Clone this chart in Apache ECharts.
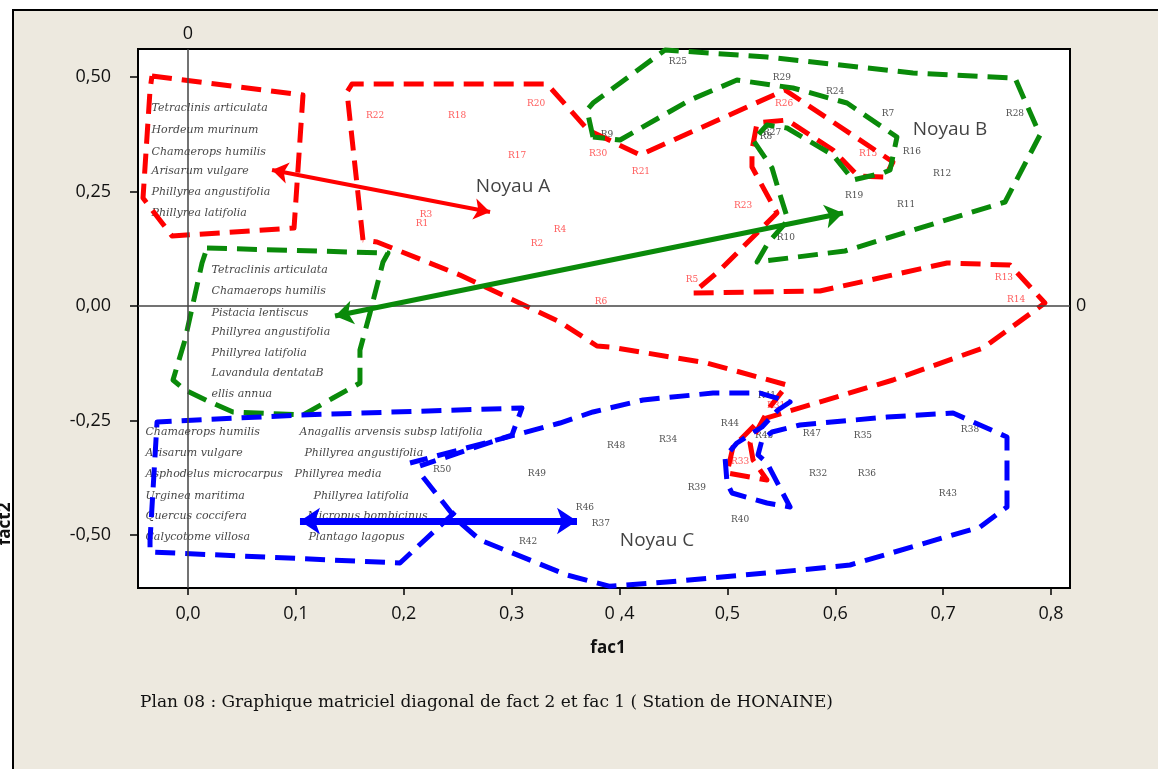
<!DOCTYPE html>
<html>
<head>
<meta charset="utf-8">
<script src="https://cdn.jsdelivr.net/npm/echarts@6/dist/echarts.min.js"></script>
<style>
  html, body { margin: 0; padding: 0; background: #fff; overflow: hidden; }
  #frame { position: absolute; left: 12px; top: 9px; width: 1200px; height: 800px;
           background: #EDE9DF; border-left: 2px solid #000; border-top: 2px solid #000; }
  #chart { position: absolute; left: 0; top: 0; width: 1158px; height: 769px; }
</style>
</head>
<body>
<div id="frame"></div>
<div id="chart"></div>
<script>
// ---- axes ----
const xTickValues = [0, 0.1, 0.2, 0.3, 0.4, 0.5, 0.6, 0.7, 0.8];
const xTickLabels = ['0,0', '0,1', '0,2', '0,3', '0 ,4', '0,5', '0,6', '0,7', '0,8'];
const yTickValues = [-0.5, -0.25, 0, 0.25, 0.5];
const yTickLabels = ['-0,50', '-0,25', '0,00', '0,25', '0,50'];

// ---- relevés (fac1, fact2) ----
const relevesRouges = [
  ['R22', 0.1734, 0.4148], ['R18', 0.2494, 0.4148], ['R20', 0.3226, 0.4410],
  ['R17', 0.3050, 0.3275], ['R30', 0.3801, 0.3319], ['R21', 0.4199, 0.2926],
  ['R3', 0.2206, 0.1987], ['R1', 0.2169, 0.1790], ['R4', 0.3448, 0.1659],
  ['R2', 0.3235, 0.1354], ['R5', 0.4672, 0.0568], ['R6', 0.3828, 0.0087],
  ['R23', 0.5145, 0.2183], ['R26', 0.5525, 0.4410], ['R15', 0.6304, 0.3319],
  ['R13', 0.7564, 0.0611], ['R14', 0.7676, 0.0131], ['R33', 0.5117, -0.3406],
  ['R31', 0.5451, -0.2183]
];
const relevesNoirs = [
  ['R25', 0.4542, 0.5328], ['R29', 0.5506, 0.4978], ['R24', 0.5998, 0.4672],
  ['R7', 0.6489, 0.4192], ['R28', 0.7666, 0.4192], ['R9', 0.3884, 0.3734],
  ['R27', 0.5414, 0.3777], ['R8', 0.5358, 0.3690], ['R16', 0.6711, 0.3362],
  ['R12', 0.6990, 0.2882], ['R19', 0.6174, 0.2402], ['R11', 0.6656, 0.2205],
  ['R10', 0.5543, 0.1485], ['R41', 0.5367, -0.1965], ['R44', 0.5024, -0.2576],
  ['R45', 0.5340, -0.2838], ['R47', 0.5784, -0.2795], ['R35', 0.6257, -0.2838],
  ['R38', 0.7249, -0.2707], ['R48', 0.3968, -0.3057], ['R34', 0.4450, -0.2926],
  ['R50', 0.2355, -0.3581], ['R49', 0.3235, -0.3668], ['R32', 0.5840, -0.3668],
  ['R36', 0.6294, -0.3668], ['R39', 0.4718, -0.3974], ['R43', 0.7045, -0.4105],
  ['R46', 0.3680, -0.4410], ['R37', 0.3828, -0.4760], ['R40', 0.5117, -0.4672],
  ['R42', 0.3152, -0.5153]
];

// ---- espèces caractéristiques de chaque noyau ----
const especesA = [
  ['Tetraclinis articulata', -0.0343, 0.4323], ['Hordeum murinum', -0.0343, 0.3843],
  ['Chamaerops humilis', -0.0343, 0.3362], ['Arisarum vulgare', -0.0343, 0.2948],
  ['Phillyrea angustifolia', -0.0343, 0.2489], ['Phillyrea latifolia', -0.0343, 0.2031]
];
const especesB = [
  ['Tetraclinis articulata', 0.0213, 0.0786], ['Chamaerops humilis', 0.0213, 0.0328],
  ['Pistacia lentiscus', 0.0213, -0.0153], ['Phillyrea angustifolia', 0.0213, -0.0568],
  ['Phillyrea latifolia', 0.0213, -0.1026], ['Lavandula dentataB', 0.0213, -0.1463],
  ['ellis annua', 0.0213, -0.1921]
];
const especesC = [
  ['Chamaerops humilis', -0.0399, -0.2751], ['Arisarum vulgare', -0.0399, -0.3210],
  ['Asphodelus microcarpus', -0.0399, -0.3668], ['Urginea maritima', -0.0399, -0.4148],
  ['Quercus coccifera', -0.0399, -0.4585], ['Calycotome villosa', -0.0399, -0.5044],
  ['Anagallis arvensis subsp latifolia', 0.1029, -0.2751], ['Phillyrea angustifolia', 0.1075, -0.3210],
  ['Phillyrea media', 0.0983, -0.3668], ['Phillyrea latifolia', 0.1159, -0.4148],
  ['Micropus bombicinus', 0.1103, -0.4585], ['Plantago lagopus', 0.1112, -0.5044]
];
const noyaux = [['Noyau A', 0.3013, 0.2598], ['Noyau B', 0.7064, 0.3843], ['Noyau C', 0.4348, -0.5131]];

// ---- contours des groupements ----
const contourRougeEspeces = [[-0.0334,0.5022],[0.1066,0.4607],[0.0983,0.1703],[-0.0148,0.1528],[-0.0417,0.2358],[-0.0352,0.4716],[-0.0334,0.5022]];
const contourRougeA = [[0.1622,0.1441],[0.1474,0.4672],[0.1520,0.4847],[0.3328,0.4847],[0.3708,0.3843],[0.4190,0.3297],[0.5534,0.4716],[0.6535,0.3144],[0.6461,0.2817],[0.6211,0.2838],[0.5979,0.3406],[0.5553,0.4061],[0.5275,0.3996],[0.5228,0.3406],[0.5228,0.3035],[0.5460,0.2031],[0.4932,0.0786],[0.4681,0.0284],[0.5859,0.0328],[0.7036,0.0939],[0.7620,0.0895],[0.7944,0.0066],[0.7370,-0.0917],[0.6535,-0.1616],[0.5516,-0.2336],[0.5302,-0.2489],[0.5052,-0.3079],[0.4997,-0.3646],[0.5367,-0.3799],[0.5238,-0.3362],[0.5210,-0.2991],[0.5395,-0.2205],[0.5553,-0.1725],[0.4811,-0.1245],[0.3912,-0.0895],[0.3791,-0.0873],[0.3448,-0.0349],[0.2521,0.0677],[0.1752,0.1397],[0.1622,0.1441]];
const contourVertB = [[0.3754,0.3690],[0.3699,0.4279],[0.3754,0.4432],[0.4422,0.559],[0.5367,0.5437],[0.6721,0.5087],[0.7666,0.4978],[0.7898,0.3734],[0.7574,0.2271],[0.6090,0.1201],[0.5275,0.0961],[0.5377,0.1376],[0.5562,0.1878],[0.5469,0.2576],[0.5414,0.3013],[0.5238,0.3624],[0.5367,0.3952],[0.5553,0.3886],[0.5979,0.3297],[0.6165,0.2751],[0.6443,0.2904],[0.6508,0.2969],[0.6572,0.3690],[0.6109,0.4432],[0.5608,0.4760],[0.5089,0.4934],[0.4654,0.4498],[0.4005,0.3624],[0.3754,0.3690]];
const contourVertEspeces = [[0.0176,0.1266],[0.1854,0.1157],[0.1808,0.0961],[0.1687,-0.0153],[0.1594,-0.0961],[0.1594,-0.1681],[0.1344,-0.2009],[0.1066,-0.2380],[0.0417,-0.2314],[0.0204,-0.2096],[-0.0028,-0.1834],[-0.0139,-0.1616],[-0.0028,-0.0742],[0.0019,-0.0240],[0.0130,0.0939],[0.0176,0.1266]];
const contourBleuEspeces = [[0.2475,-0.4498],[0.1965,-0.5611],[-0.0352,-0.5371],[-0.0352,-0.5109],[-0.0287,-0.2533],[0.1038,-0.2380],[0.3096,-0.2227],[0.3003,-0.2817],[0.2151,-0.3493]];
const contourBleuC = [[0.2178,-0.3734],[0.2494,-0.4672],[0.2707,-0.5109],[0.3513,-0.5873],[0.3912,-0.612],[0.4440,-0.6026],[0.5673,-0.5764],[0.6137,-0.5655],[0.7342,-0.4825],[0.7592,-0.4389],[0.7592,-0.2860],[0.7092,-0.2336],[0.6480,-0.2424],[0.5673,-0.2598],[0.5414,-0.2751],[0.5321,-0.2926],[0.5284,-0.3253],[0.5367,-0.3428],[0.5581,-0.4389],[0.5367,-0.4301],[0.5043,-0.4083],[0.4997,-0.3865],[0.4978,-0.3297],[0.5089,-0.2991],[0.5321,-0.2642],[0.5469,-0.2271],[0.5581,-0.2096],[0.5302,-0.1900],[0.4867,-0.1900],[0.4218,-0.2052],[0.3754,-0.2314],[0.3448,-0.2555],[0.2058,-0.3428]];

// ---- flèches reliant espèces et noyaux ----
const flecheRouge = [[0.0779, 0.2969], [0.2800, 0.2052]];
const flecheVerte = [[0.1363, -0.0218], [0.6072, 0.2031]];
const flecheBleue = [[0.1038, -0.4694], [0.3606, -0.4694]];

const RED = '#FF0000', GREEN = '#0A8A0A', BLUE = '#0000FF';
const SANS = "'Open Sans', 'DejaVu Sans', sans-serif";
const SERIF = "'DejaVu Serif', 'Liberation Serif', serif";

function contour(data, color) {
  return {
    type: 'line', data: data, symbol: 'none', showSymbol: false, silent: true, z: 4,
    lineStyle: { color: color, width: 5, type: [20, 10], cap: 'butt', join: 'round' }
  };
}
function fleche(coords, color, width, size) {
  return {
    type: 'lines', coordinateSystem: 'cartesian2d', silent: true, z: 5,
    symbol: ['arrow', 'arrow'], symbolSize: size,
    lineStyle: { color: color, width: width, opacity: 1, curveness: 0 },
    data: [{ coords: coords }]
  };
}
function textes(rows, label, z) {
  return {
    type: 'scatter', silent: true, z: z || 3,
    symbol: 'rect', symbolSize: 1, itemStyle: { color: 'transparent' },
    data: rows.map(r => ({ name: r[0], value: [r[1], r[2]] })),
    label: Object.assign({ show: true, formatter: '{b}' }, label)
  };
}

const especeLabel = { position: 'right', distance: 0, color: '#111', fontFamily: SERIF, fontStyle: 'italic', fontSize: 11 };
const releveLabel = { position: 'inside', fontFamily: SERIF, fontSize: 9 };

const axisFont = { color: '#111', fontFamily: SANS, fontSize: 18 };

const chart = echarts.init(document.getElementById('chart'), null, { renderer: 'canvas' });
chart.setOption({
  animation: false,
  backgroundColor: 'transparent',
  grid: { left: 138, right: 88, top: 49, bottom: 181, show: true, backgroundColor: '#fff',
          borderColor: '#000', borderWidth: 2 },
  xAxis: {
    type: 'value', min: -0.04635, max: 0.81761,
    axisLine: { show: false, onZero: false },
    splitLine: { show: false },
    axisTick: { show: true, length: 7, lineStyle: { color: '#000', width: 1.5 }, customValues: xTickValues },
    axisLabel: Object.assign({ margin: 17, customValues: xTickValues, showMinLabel: true, showMaxLabel: true,
      formatter: v => { const i = Math.round(v * 10); return (Math.abs(v * 10 - i) < 1e-6 && xTickLabels[i]) || ''; } }, axisFont)
  },
  yAxis: {
    type: 'value', min: -0.61572, max: 0.56114,
    axisLine: { show: false, onZero: false },
    splitLine: { show: false },
    axisTick: { show: true, length: 8, lineStyle: { color: '#000', width: 1.5 }, customValues: yTickValues },
    axisLabel: Object.assign({ margin: 27, customValues: yTickValues, showMinLabel: true, showMaxLabel: true,
      formatter: v => { const i = Math.round(v * 4) + 2; return (Math.abs(v * 4 + 2 - i) < 1e-6 && yTickLabels[i]) || ''; } }, axisFont)
  },
  graphic: [
    { type: 'text', x: 608, y: 648, style: { text: 'fac1', align: 'center', verticalAlign: 'middle',
      font: "bold 17px 'Open Sans', 'DejaVu Sans', sans-serif", fill: '#111' } },
    { type: 'text', rotation: Math.PI / 2, x: 5, y: 524, style: { text: 'fact2', align: 'center', verticalAlign: 'middle',
      font: "bold 17px 'Open Sans', 'DejaVu Sans', sans-serif", fill: '#111' } },
    { type: 'text', x: 140, y: 703, style: { text: 'Plan 08 : Graphique matriciel diagonal de fact 2 et fac 1 ( Station de HONAINE)',
      align: 'left', verticalAlign: 'middle', font: "17px 'DejaVu Serif', 'Liberation Serif', serif", fill: '#111' } }
  ],
  series: [
    Object.assign(textes(especesA.concat(especesB, especesC), especeLabel, 2), {
      markLine: {
        silent: true, symbol: ['none', 'none'], animation: false,
        lineStyle: { color: '#444', width: 1.5, type: 'solid' },
        label: { show: true, formatter: '0', position: 'end', distance: 6, color: '#111', fontFamily: SANS, fontSize: 18 },
        data: [{ xAxis: 0 }, { yAxis: 0 }]
      }
    }),
    textes(relevesRouges, Object.assign({ color: '#FF3030' }, releveLabel)),
    textes(relevesNoirs, Object.assign({ color: '#222' }, releveLabel)),
    textes(noyaux, { position: 'inside', color: '#111', fontFamily: SANS, fontSize: 19 }),
    contour(contourRougeEspeces, RED),
    contour(contourRougeA, RED),
    contour(contourVertB, GREEN),
    contour(contourVertEspeces, GREEN),
    contour(contourBleuEspeces, BLUE),
    contour(contourBleuC, BLUE),
    fleche(flecheRouge, RED, 4, 16),
    fleche(flecheVerte, GREEN, 5, 18),
    fleche(flecheBleue, BLUE, 7, 20)
  ]
});
</script>
</body>
</html>
